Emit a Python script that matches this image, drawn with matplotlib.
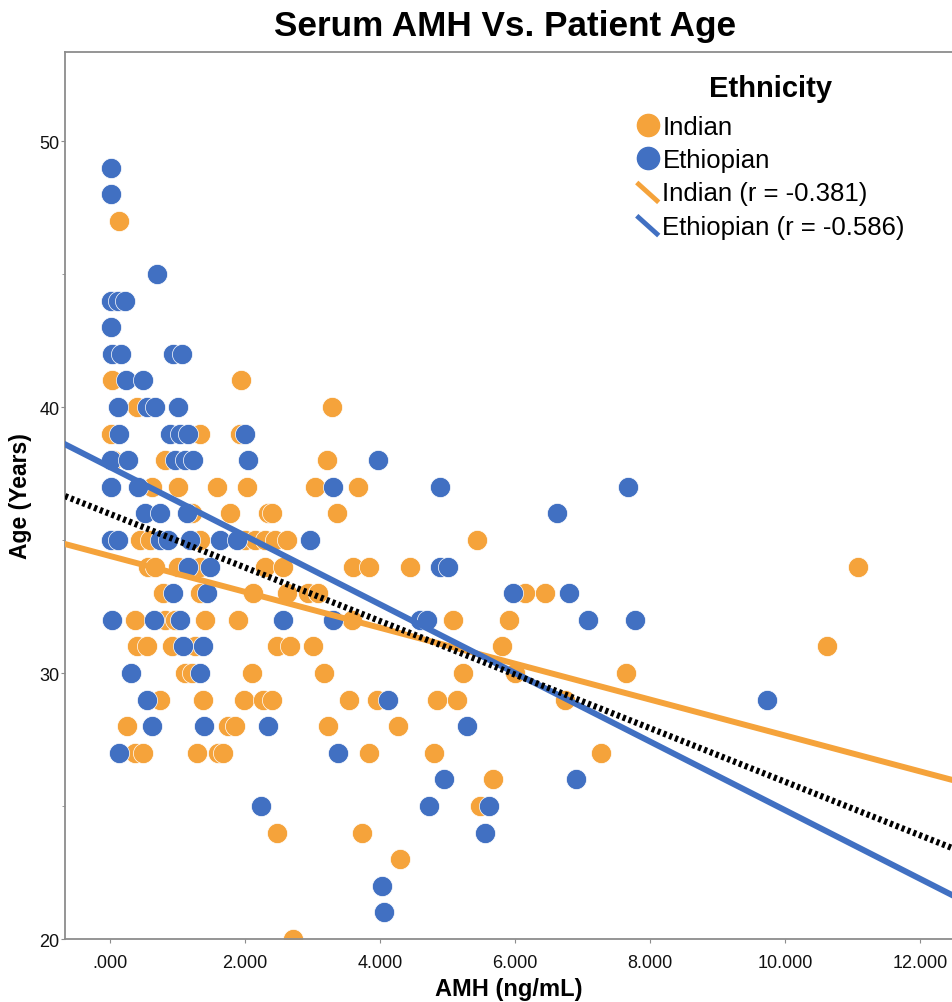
import matplotlib
matplotlib.use("Agg")
import matplotlib.pyplot as plt
from matplotlib.lines import Line2D
from matplotlib.legend_handler import HandlerBase
from matplotlib.ticker import FixedLocator, FuncFormatter

plt.rcParams["font.family"] = ["Liberation Sans", "DejaVu Sans"]

# ---------------------------------------------------------------------------
# Data (AMH in ng/mL, age in years)
# ---------------------------------------------------------------------------
indian_amh = [
    0.13,
    0.03, 1.94,
    0.40, 3.29,
    0.01, 1.33, 1.93,
    0.04, 0.81, 3.21,
    0.62, 1.01, 1.59, 2.03, 3.04, 3.67,
    1.21, 1.78, 2.34, 2.40, 3.36,
    0.44, 0.59, 1.33, 2.00, 2.15, 2.30, 2.44, 2.62, 5.44,
    0.56, 0.67, 1.01, 1.33, 2.30, 2.56, 3.60, 3.84, 4.44, 11.08,
    0.79, 1.33, 2.12, 2.62, 2.93, 3.08, 6.15, 6.44,
    0.37, 0.81, 0.96, 1.41, 1.90, 3.59, 5.08, 5.91,
    0.40, 0.55, 0.92, 1.26, 2.47, 2.67, 3.01, 5.81, 10.62,
    1.11, 1.21, 2.10, 3.17, 5.23, 6.00, 7.64,
    0.74, 1.38, 1.99, 2.27, 2.40, 3.54, 3.96, 4.84, 5.14, 6.74,
    0.25, 1.75, 1.85, 3.23, 4.27,
    0.37, 0.49, 1.29, 1.60, 1.67, 3.84, 4.80, 7.27,
    5.67,
    5.48,
    2.47, 3.73,
    4.30,
    2.71,
]
indian_age = (
    [47]
    + [41] * 2
    + [40] * 2
    + [39] * 3
    + [38] * 3
    + [37] * 6
    + [36] * 5
    + [35] * 9
    + [34] * 10
    + [33] * 8
    + [32] * 8
    + [31] * 9
    + [30] * 7
    + [29] * 10
    + [28] * 5
    + [27] * 8
    + [26]
    + [25]
    + [24] * 2
    + [23]
    + [20]
)

ethiopian_amh = [
    0.01,
    0.01,
    0.70,
    0.01, 0.12, 0.22,
    0.01,
    0.03, 0.16, 0.93, 1.07,
    0.24, 0.49,
    0.12, 0.55, 0.67, 1.01,
    0.13, 0.89, 1.04, 1.16, 2.00,
    0.01, 0.27, 0.96, 1.11, 1.23, 2.04, 3.97,
    0.01, 0.41, 3.30, 4.89, 7.67,
    0.52, 0.74, 1.14, 6.62,
    0.01, 0.12, 0.74, 0.86, 1.19, 1.63, 1.88, 2.96,
    1.16, 1.48, 4.89, 5.01,
    0.93, 1.44, 5.97, 6.79,
    0.03, 0.65, 1.04, 2.56, 3.30, 4.59, 4.70, 7.08, 7.78,
    1.08, 1.38,
    0.31, 1.33,
    0.55, 4.12, 9.73,
    0.62, 1.39, 2.34, 5.29,
    0.13, 3.38,
    4.95, 6.90,
    2.24, 4.73, 5.61,
    5.56,
    4.03,
    4.06,
]
ethiopian_age = (
    [49]
    + [48]
    + [45]
    + [44] * 3
    + [43]
    + [42] * 4
    + [41] * 2
    + [40] * 4
    + [39] * 5
    + [38] * 7
    + [37] * 5
    + [36] * 4
    + [35] * 8
    + [34] * 4
    + [33] * 4
    + [32] * 9
    + [31] * 2
    + [30] * 2
    + [29] * 3
    + [28] * 4
    + [27] * 2
    + [26] * 2
    + [25] * 3
    + [24]
    + [22]
    + [21]
)

# fit lines (intercept, slope) as drawn in the chart
fit_indian = (34.40, -0.675)
fit_ethiopian = (37.74, -1.29)
fit_total = (35.98, -1.007)

labels = ["Indian", "Ethiopian", "Indian (r = -0.381)", "Ethiopian (r = -0.586)"]
xticks = [0, 2, 4, 6, 8, 10, 12]
yticks = [20, 30, 40, 50]
yminor = [25, 35, 45]

ORANGE = "#F5A33B"
BLUE = "#4170C2"
SPINE = "#8c8c8c"


class DiagHandler(HandlerBase):
    """Short diagonal stroke for the fit-line legend entries."""
    def create_artists(self, legend, orig_handle, xdescent, ydescent,
                       width, height, fontsize, trans):
        ln = Line2D([-xdescent + 0.05 * width, -xdescent + 0.95 * width],
                    [-ydescent + 1.0 * height, -ydescent - 0.1 * height],
                    color=orig_handle.get_color(), lw=3.5,
                    solid_capstyle="butt", transform=trans)
        return [ln]


fig = plt.figure(figsize=(9.52, 10.03), dpi=100)
ax = fig.add_axes([0.0683, 0.0628, 0.9317, 0.8844])

ax.scatter(indian_amh, indian_age, s=210, color=ORANGE, edgecolors="white",
           linewidths=0.5, zorder=2)
ax.scatter(ethiopian_amh, ethiopian_age, s=210, color=BLUE, edgecolors="white",
           linewidths=0.5, zorder=3)

ax.axline((0, fit_indian[0]), slope=fit_indian[1], color=ORANGE, lw=4.3, zorder=4)
ax.axline((0, fit_ethiopian[0]), slope=fit_ethiopian[1], color=BLUE, lw=4.3, zorder=5)
ax.axline((0, fit_total[0]), slope=fit_total[1], color="black", lw=4.5,
          linestyle=(0, (0.5, 0.5)), zorder=6)

ax.set_xlim(-0.667, 12.47)
ax.set_ylim(20, 53.35)

ax.xaxis.set_major_locator(FixedLocator(xticks))
ax.xaxis.set_major_formatter(FuncFormatter(
    lambda v, p: ".000" if v == 0 else f"{v:.3f}"))
ax.yaxis.set_major_locator(FixedLocator(yticks))
ax.yaxis.set_minor_locator(FixedLocator(yminor))

for side in ["left", "bottom", "top"]:
    ax.spines[side].set_color(SPINE)
    ax.spines[side].set_linewidth(1.3)
ax.spines["right"].set_visible(False)

ax.tick_params(axis="both", which="major", direction="out", length=3,
               color=SPINE, labelsize=13, labelcolor="#111111")
ax.tick_params(axis="y", which="minor", direction="out", length=2, color=SPINE)
ax.tick_params(axis="y", pad=1)
ax.tick_params(axis="x", pad=8)

ax.set_xlabel("AMH (ng/mL)", fontsize=17, fontweight="bold", labelpad=4)
ax.set_ylabel("Age (Years)", fontsize=16.5, fontweight="bold", labelpad=5)
fig.text(0.531, 0.974, "Serum AMH Vs. Patient Age", ha="center", va="center",
         fontsize=25.3, fontweight="bold")

# legend title placed separately to match the spacing of the original
fig.text(771 / 952, 1 - 89 / 1003, "Ethnicity", ha="center", va="center",
         fontsize=21, fontweight="bold")

handles = [
    Line2D([], [], linestyle="none", marker="o", markersize=16,
           markerfacecolor=ORANGE, markeredgecolor=ORANGE),
    Line2D([], [], linestyle="none", marker="o", markersize=16,
           markerfacecolor=BLUE, markeredgecolor=BLUE),
    Line2D([], [], color=ORANGE),
    Line2D([], [], color=BLUE),
]
leg = fig.legend(handles, labels, loc="upper right",
                 bbox_to_anchor=(905 / 952, 1 - 116 / 1003), frameon=False,
                 fontsize=18.5, borderpad=0, borderaxespad=0,
                 handlelength=0.95, handletextpad=0.1, labelspacing=0.36,
                 handler_map={handles[2]: DiagHandler(), handles[3]: DiagHandler()})

fig.savefig("out.png", dpi=100)
